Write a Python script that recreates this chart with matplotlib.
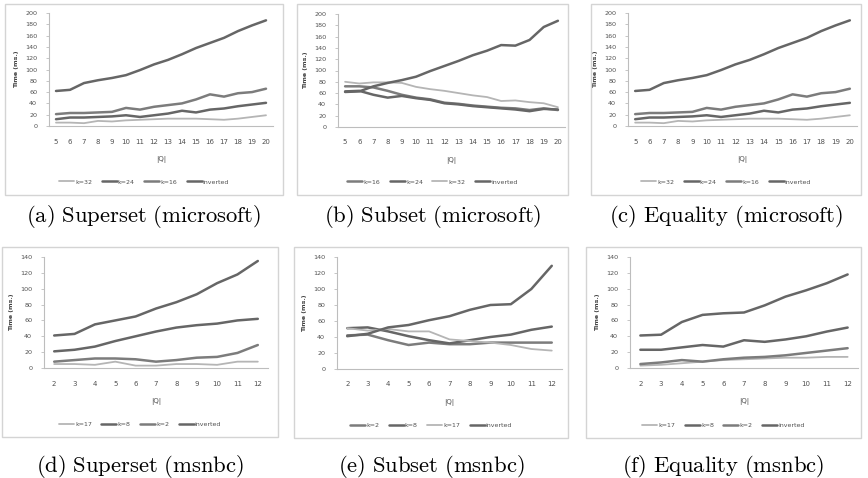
import matplotlib
matplotlib.use("Agg")
import matplotlib.pyplot as plt
from matplotlib.patches import Rectangle

W, H = 868, 478

# microsoft data, |Q| = 5..20
q_ms = list(range(5, 21))
sup_ms_k32 = [6, 6, 5, 9, 8, 10, 11, 12, 13, 13, 13, 12, 11, 13, 16, 19]
sup_ms_k24 = [12, 15, 15, 16, 17, 19, 16, 19, 22, 27, 24, 29, 31, 35, 38, 41]
sup_ms_k16 = [21, 23, 23, 24, 25, 32, 29, 34, 37, 40, 47, 56, 52, 58, 60, 66]
sup_ms_inv = [62, 64, 76, 81, 85, 90, 99, 109, 117, 127, 138, 147, 156, 168, 178, 187]

sub_ms_k16 = [72, 72, 70, 64, 57, 52, 49, 43, 41, 38, 36, 34, 33, 30, 33, 30]
sub_ms_k24 = [63, 64, 57, 52, 55, 51, 48, 42, 40, 37, 35, 33, 31, 28, 32, 31]
sub_ms_k32 = [80, 77, 79, 79, 78, 71, 67, 64, 60, 56, 53, 46, 47, 44, 42, 35]
sub_ms_inv = [62, 63, 72, 78, 83, 89, 99, 108, 117, 127, 135, 145, 144, 154, 177, 188]

eq_ms_k32 = [6, 6, 5, 9, 8, 10, 11, 12, 13, 13, 13, 12, 11, 13, 16, 19]
eq_ms_k24 = [12, 15, 15, 16, 17, 19, 16, 19, 22, 27, 24, 29, 31, 35, 38, 41]
eq_ms_k16 = [21, 23, 23, 24, 25, 32, 29, 34, 37, 40, 47, 56, 52, 58, 60, 66]
eq_ms_inv = [62, 64, 76, 81, 85, 90, 99, 109, 117, 127, 138, 147, 156, 168, 178, 187]

# msnbc data, |Q| = 2..12
q_nbc = list(range(2, 13))
sup_nbc_k17 = [5, 5, 4, 8, 3, 3, 5, 5, 4, 8, 8]
sup_nbc_k8 = [21, 23, 27, 34, 40, 46, 51, 54, 56, 60, 62]
sup_nbc_k2 = [8, 10, 12, 12, 11, 8, 10, 13, 14, 19, 29]
sup_nbc_inv = [41, 43, 55, 60, 65, 75, 83, 93, 107, 118, 135]

sub_nbc_k2 = [42, 43, 36, 30, 33, 31, 31, 33, 33, 33, 33]
sub_nbc_k8 = [51, 52, 47, 41, 36, 32, 36, 40, 43, 49, 53]
sub_nbc_k17 = [51, 48, 50, 47, 47, 37, 35, 33, 30, 25, 23]
sub_nbc_inv = [41, 44, 52, 55, 61, 66, 74, 80, 81, 100, 129]

eq_nbc_k17 = [3, 4, 6, 8, 10, 11, 12, 13, 13, 14, 14]
eq_nbc_k8 = [23, 23, 26, 29, 27, 35, 33, 36, 40, 46, 51]
eq_nbc_k2 = [5, 7, 10, 8, 11, 13, 14, 16, 19, 22, 25]
eq_nbc_inv = [41, 42, 58, 67, 69, 70, 79, 90, 98, 107, 118]

LIGHT = "#b5b5b5"
MID = "#7c7c7c"
DARK = "#666666"

plt.rcParams["mathtext.fontset"] = "cm"

fig = plt.figure(figsize=(W / 100, H / 100), dpi=100)


def frac(x0, y0, x1, y1):
    # pixel box (top-left origin) -> figure fraction rect
    return [x0 / W, 1 - y1 / H, (x1 - x0) / W, (y1 - y0) / H]


def panel(box, plot, qs, series, ymax, ystep, caption, cap_y):
    bx0, by0, bx1, by1 = box
    fig.patches.append(Rectangle((bx0 / W, 1 - by1 / H), (bx1 - bx0) / W, (by1 - by0) / H,
                                 transform=fig.transFigure, fill=False,
                                 edgecolor="#d4d4d4", linewidth=1.0))
    ax = fig.add_axes(frac(*plot))
    for label, vals, color, lw in series:
        ax.plot(qs, vals, color=color, linewidth=lw, label=label, solid_capstyle="round")
    ax.set_xlim(qs[0] - 0.5, qs[-1] + 0.5)
    ax.set_ylim(0, ymax)
    ax.set_yticks(range(0, ymax + 1, ystep))
    ax.set_xticks(qs)
    for s in ["top", "right"]:
        ax.spines[s].set_visible(False)
    for s in ["left", "bottom"]:
        ax.spines[s].set_color("#bdbdbd")
        ax.spines[s].set_linewidth(0.8)
    ax.tick_params(axis="y", length=2.5, width=0.6, color="#bdbdbd",
                   labelsize=4.6, labelcolor="#505050", pad=6)
    ax.tick_params(axis="x", length=0, labelsize=5.0, labelcolor="#505050", pad=9)
    ax.set_ylabel("Time (ms.)", fontsize=4.5, fontweight="bold", color="#404040", labelpad=4)
    ax.set_xlabel("|Q|", fontsize=5.0, color="#505050", labelpad=8)
    cx = (bx0 + bx1) / 2 / W
    ax.legend(loc="center", bbox_to_anchor=(cx, 1 - (by1 - 13) / H),
              bbox_transform=fig.transFigure, ncol=4, frameon=False,
              fontsize=4.5, handlelength=2.4, handletextpad=0.2, columnspacing=1.5,
              labelcolor="#505050")
    fig.text(cx, 1 - cap_y / H, caption, ha="center", va="center", fontsize=16.3)
    return ax


def cap(s):
    return r"$\mathrm{" + s.replace(" ", r"\ ") + "}$"


panel((5, 4, 283, 195), (49, 13, 273, 126), q_ms,
      [("k=32", sup_ms_k32, LIGHT, 1.3), ("k=24", sup_ms_k24, DARK, 1.8),
       ("k=16", sup_ms_k16, MID, 1.8), ("inverted", sup_ms_inv, DARK, 1.8)],
      200, 20, cap("(a) Superset (microsoft)"), 217)

panel((297, 4, 568, 195), (338, 14, 565, 127), q_ms,
      [("k=16", sub_ms_k16, MID, 1.8), ("k=24", sub_ms_k24, DARK, 1.8),
       ("k=32", sub_ms_k32, LIGHT, 1.3), ("inverted", sub_ms_inv, DARK, 1.8)],
      200, 20, cap("(b) Subset (microsoft)"), 217)

panel((591, 4, 861, 195), (628, 13, 857, 126), q_ms,
      [("k=32", eq_ms_k32, LIGHT, 1.3), ("k=24", eq_ms_k24, DARK, 1.8),
       ("k=16", eq_ms_k16, MID, 1.8), ("inverted", eq_ms_inv, DARK, 1.8)],
      200, 20, cap("(c) Equality (microsoft)"), 217)

panel((2, 247, 278, 437), (44, 257, 268, 368), q_nbc,
      [("k=17", sup_nbc_k17, LIGHT, 1.3), ("k=8", sup_nbc_k8, DARK, 1.8),
       ("k=2", sup_nbc_k2, MID, 1.8), ("inverted", sup_nbc_inv, DARK, 1.8)],
      140, 20, cap("(d) Superset (msnbc)"), 466)

panel((294, 247, 568, 438), (337, 257, 562, 369), q_nbc,
      [("k=2", sub_nbc_k2, MID, 1.8), ("k=8", sub_nbc_k8, DARK, 1.8),
       ("k=17", sub_nbc_k17, LIGHT, 1.3), ("inverted", sub_nbc_inv, DARK, 1.8)],
      140, 20, cap("(e) Subset (msnbc)"), 466)

panel((586, 247, 861, 438), (630, 257, 858, 368), q_nbc,
      [("k=17", eq_nbc_k17, LIGHT, 1.3), ("k=8", eq_nbc_k8, DARK, 1.8),
       ("k=2", eq_nbc_k2, MID, 1.8), ("inverted", eq_nbc_inv, DARK, 1.8)],
      140, 20, cap("(f) Equality (msnbc)"), 466)

fig.savefig("out.png", dpi=100)
